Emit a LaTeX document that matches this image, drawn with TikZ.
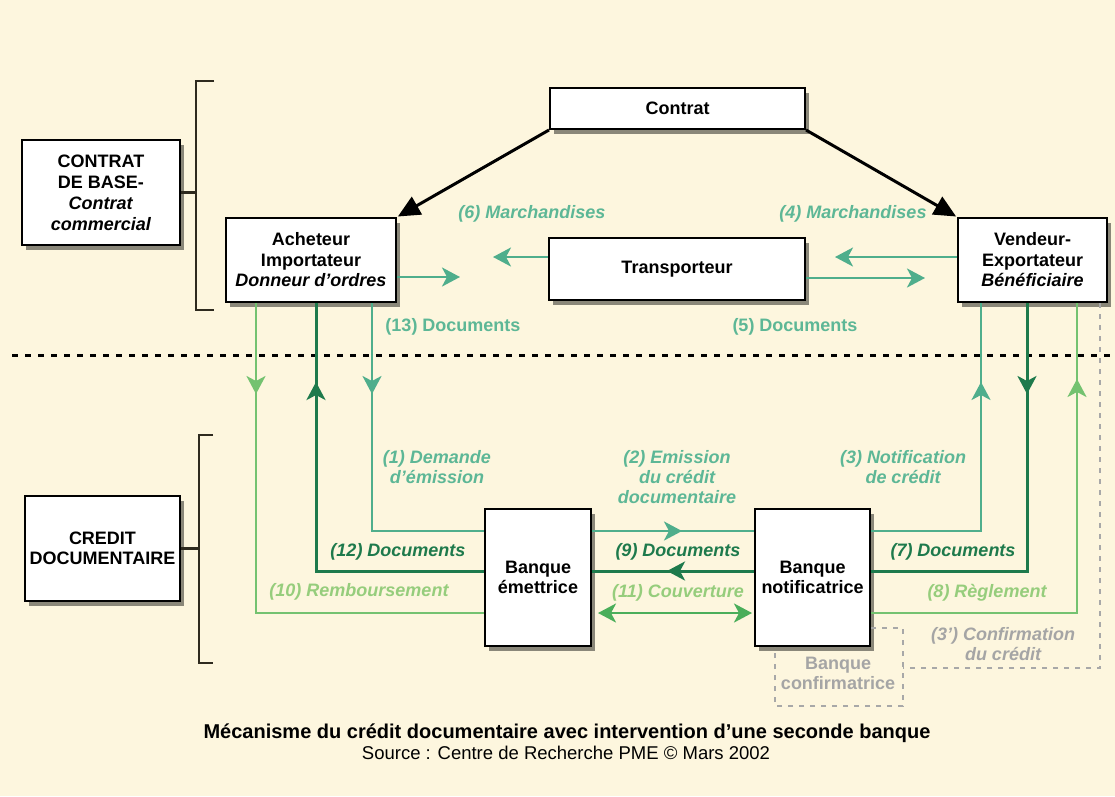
\documentclass[tikz,border=0pt]{standalone}
\usepackage{fontspec}
\setmainfont{Liberation Sans}
\usetikzlibrary{arrows.meta,shadows,decorations.markings,calc}
\definecolor{bg}{HTML}{FDF6DE}
\definecolor{teal}{HTML}{4FAE8C}
\definecolor{tealtxt}{HTML}{5DB796}
\definecolor{dgreen}{HTML}{1E7A4C}
\definecolor{lgreen}{HTML}{74C270}
\definecolor{lgreentxt}{HTML}{96CD7C}
\definecolor{mgreen}{HTML}{4AAE5A}
\definecolor{grayline}{HTML}{A8A8A8}
\definecolor{graytxt}{HTML}{A5A5A5}
\definecolor{brk}{HTML}{2E2A1E}
\tikzset{
  box/.style={draw=black, line width=2pt, fill=white, align=center, inner sep=1pt,
    font=\bfseries\fontsize{18}{20.5}\selectfont,
    drop shadow={shadow xshift=4pt, shadow yshift=-5pt, opacity=0.45, fill=black}},
  lbl/.style={font=\bfseries\itshape\fontsize{18}{20}\selectfont, align=center, inner sep=0pt},
  lblup/.style={font=\bfseries\fontsize{18}{20}\selectfont, align=center, inner sep=0pt},
  arr/.style={-{Stealth[length=18pt,width=19pt,inset=5pt]}},
  markarrow/.style={postaction={decorate,decoration={markings,
      mark=at position #1 with {\arrow{Stealth[length=18pt,width=19pt,inset=5pt]}}}}},
  tealline/.style={draw=teal, line width=2.5pt},
  darkline/.style={draw=dgreen, line width=3pt},
  lightline/.style={draw=lgreen, line width=2.5pt},
  grayd/.style={draw=grayline, line width=1.5pt, dash pattern=on 5pt off 6pt},
  bigarrow/.style={draw=black, line width=3pt, -{Triangle[length=22pt,width=20pt]}},
}
\begin{document}
\begin{tikzpicture}[x=1pt,y=-1pt]
\fill[bg] (0,0) rectangle (1115,796);
\useasboundingbox (0,0) rectangle (1115,796);

% reference coordinates
\coordinate (X903) at (903,0);
\coordinate (X775) at (775,0);
\coordinate (X1100) at (1100,0);
\coordinate (Y257) at (0,257);
\coordinate (Y613) at (0,613);
\coordinate (Y628) at (0,628);
\coordinate (Y668) at (0,668);
\coordinate (Y706) at (0,706);

% separator
\draw[black, line width=3pt, dash pattern=on 6pt off 7pt] (12,355) -- (1115,355);

% boxes
\node[box, minimum width=158pt, minimum height=105pt, font=\bfseries\fontsize{18}{21}\selectfont] (base) at (101,192.5)
  {CONTRAT\\DE BASE-\\\textit{Contrat}\\\textit{commercial}};
\node[box, minimum width=255pt, minimum height=41pt] (contrat) at (677.5,108.5) {Contrat};
\node[box, minimum width=170pt, minimum height=84pt] (ach) at (311,260)
  {Acheteur\\Importateur\\\textit{Donneur d’ordres}};
\node[box, minimum width=256pt, minimum height=62pt] (transp) at (677,269) {Transporteur};
\node[box, minimum width=149pt, minimum height=84pt] (vend) at (1032.5,260)
  {Vendeur-\\Exportateur\\\textit{Bénéficiaire}};
\node[box, minimum width=155pt, minimum height=105pt] (credit) at (102.5,548.5)
  {CREDIT\\DOCUMENTAIRE};
\node[box, minimum width=106pt, minimum height=137pt] (emet) at (538,577.5)
  {Banque\\émettrice};
\node[box, minimum width=115pt, minimum height=137pt] (notif) at (812.5,577.5)
  {Banque\\notificatrice};

% connectors between the parties and the banks
\draw[lightline, markarrow=91pt] (ach.south -| 256,0) |- (emet.west |- Y613);
\draw[darkline, markarrow=357pt] (emet.west |- 0,571) -| (ach.south -| 316,0);
\draw[tealline, markarrow=91pt] (ach.south -| 372,0) |- (emet.west |- 0,531);
\draw[tealline, markarrow=90pt] (emet.east |- 0,531) -- (notif.west |- 0,531);
\draw[tealline, markarrow=259pt] (notif.east |- 0,531) -| (vend.south -| 981,0);
\draw[darkline, markarrow=87pt] (notif.west |- 0,571) -- (emet.east |- 0,571);
\draw[darkline, markarrow=91pt] (vend.south -| 1027,0) |- (notif.east |- 0,571);
\draw[lightline, markarrow=440pt] (notif.east |- Y613) -| (vend.south -| 1077,0);

% brackets
\draw[brk, line width=2.5pt] (214,81) -| (196,310) -- (214,310);
\draw[brk, line width=2.5pt] (base.east) -- (base.east -| 196,0);
\draw[brk, line width=2.5pt] (213,435) -| (199,663) -- (213,663);
\draw[brk, line width=2.5pt] (credit.east) -- (credit.east -| 199,0);

% contract arrows
\draw[bigarrow, shorten >=1pt] (contrat.south west) -- (ach.north east);
\draw[bigarrow, shorten >=1pt] (contrat.south east) -- (vend.north west);

% goods / documents arrows
\coordinate (e6) at (493,257);
\coordinate (e13) at (460,277);
\coordinate (e4) at (835,257);
\coordinate (e5) at (925,278);
\draw[tealline, arr] (transp.west |- Y257) -- (e6);
\draw[tealline, arr] (ach.east |- e13) -- (e13);
\draw[tealline, arr] (vend.west |- Y257) -- (e4);
\draw[tealline, arr] (transp.east |- e5) -- (e5);

% couverture double arrow
\draw[draw=mgreen, line width=2.5pt, {Stealth[length=18pt,width=19pt,inset=5pt]}-{Stealth[length=18pt,width=19pt,inset=5pt]}, shorten <=6pt, shorten >=2pt]
  (emet.east |- Y613) -- (notif.west |- Y613);

% confirming bank dashed outlines
\draw[grayd] (notif.east |- Y628) -| (X903 |- Y706) -| (notif.south -| X775);
\draw[grayd] (vend.south -| X1100) |- (X903 |- Y668);

% labels
\node[lbl, text=tealtxt] (l6) at (532,214) {(6) Marchandises};
\node[lbl, text=tealtxt] (l4) at (853,214) {(4) Marchandises};
\node[lblup, text=tealtxt] (l13) at (453,327) {(13) Documents};
\node[lblup, text=tealtxt] (l5) at (795,327) {(5) Documents};
\node[lbl, text=tealtxt] (l1) at (437,467) {(1) Demande\\d’émission};
\node[lbl, text=tealtxt] (l2) at (677,477) {(2) Emission\\du crédit\\documentaire};
\node[lbl, text=tealtxt] (l3) at (903,467) {(3) Notification\\de crédit};
\node[lbl, text=dgreen] (l12) at (398,552) {(12) Documents};
\node[lbl, text=dgreen] (l9) at (678,552) {(9) Documents};
\node[lbl, text=dgreen] (l7) at (953,552) {(7) Documents};
\node[lbl, text=lgreentxt] (l10) at (359,592) {(10) Remboursement};
\node[lbl, text=lgreentxt] (l11) at (678,593) {(11) Couverture};
\node[lbl, text=lgreentxt] (l8) at (987,593) {(8) Règlement};
\node[lbl, text=graytxt] (l3b) at (1003,644) {(3’) Confirmation\\du crédit};
\node[lblup, text=graytxt] (lconf) at (838,673) {Banque\\confirmatrice};

% caption
\node[font=\bfseries\fontsize{20}{22}\selectfont, inner sep=0pt] (title) at (567,733)
  {Mécanisme du crédit documentaire avec intervention d’une seconde banque};
\node[font=\fontsize{18.5}{20}\selectfont, inner sep=0pt] (source) at (566,753)
  {Source : Centre de Recherche PME © Mars 2002};
\end{tikzpicture}
\end{document}
